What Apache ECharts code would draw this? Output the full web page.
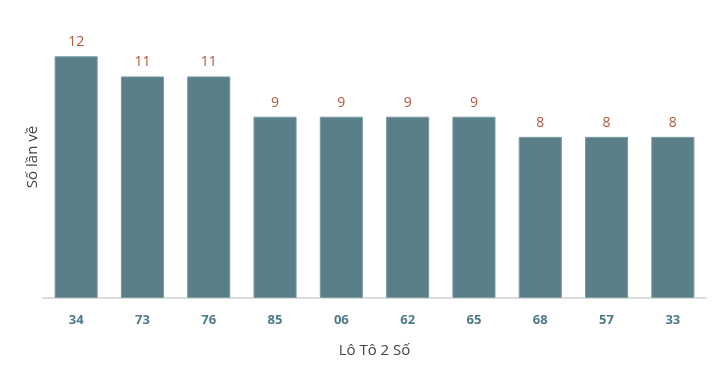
<!DOCTYPE html>
<html><head><meta charset="utf-8">
<script src="https://cdn.jsdelivr.net/npm/echarts@6/dist/echarts.min.js"></script>
<style>html,body{margin:0;padding:0;background:#fff}#c{width:717px;height:370px}</style>
</head><body><div id="c"></div>
<script>
const categories = ["34","73","76","85","06","62","65","68","57","33"];
const values = [12,11,11,9,9,9,9,8,8,8];
const chart = echarts.init(document.getElementById('c'));
chart.setOption({
  animation:false,
  textStyle:{fontFamily:'Open Sans'},
  grid:{left:43,right:11,top:16,bottom:72},
  xAxis:{type:'category',data:categories,
    name:'Lô Tô 2 Số',nameLocation:'middle',nameGap:45,
    nameTextStyle:{color:'#444',fontSize:15,fontFamily:'Open Sans'},
    axisLine:{lineStyle:{color:'#dddddd',width:2}},axisTick:{show:false},
    axisLabel:{color:'#4c7a8a',fontWeight:'bold',fontSize:13,margin:16,fontFamily:'Open Sans'}},
  yAxis:{type:'value',min:0,max:14,
    name:'Số lần về',nameLocation:'middle',nameGap:3,
    nameTextStyle:{color:'#444',fontSize:15,fontFamily:'Open Sans'},
    axisLine:{show:false},axisTick:{show:false},axisLabel:{show:false},splitLine:{show:false}},
  series:[{type:'bar',data:values,barWidth:'65%',
    itemStyle:{color:'#5a7f88',borderColor:'#7b9ba3',borderWidth:1},
    label:{show:true,position:'top',distance:7,color:'#b5553a',fontSize:14,fontFamily:'Open Sans'}}]
});
</script></body></html>
